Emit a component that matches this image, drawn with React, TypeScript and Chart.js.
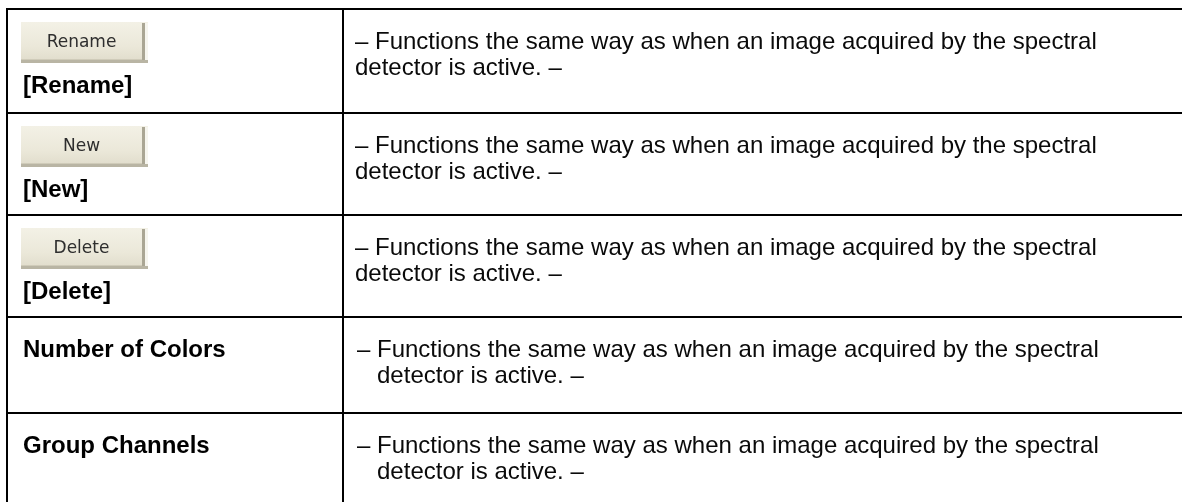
import { useEffect, useRef } from "react";
import { Chart, registerables } from "chart.js";

Chart.register(...registerables);

// ---- content (table data) ----
const rowLabels = ["[Rename]", "[New]", "[Delete]", "Number of Colors", "Group Channels"];
const buttonLabels = ["Rename", "New", "Delete", "", ""];
const descFirstLines = [
  "– Functions the same way as when an image acquired by the spectral",
  "– Functions the same way as when an image acquired by the spectral",
  "– Functions the same way as when an image acquired by the spectral",
  "– Functions the same way as when an image acquired by the spectral",
  "– Functions the same way as when an image acquired by the spectral",
];
const descSecondLines = [
  "detector is active. –",
  "detector is active. –",
  "detector is active. –",
  "detector is active. –",
  "detector is active. –",
];
const hangingIndent = [false, false, false, true, true];

// ---- layout (in page pixels, mapped through the chart's linear scales) ----
const W = 1182;
const H = 502;
const TABLE_LEFT = 7;
const COL_DIVIDER = 343;
const TABLE_TOP = 9;
const ROW_HEIGHTS = [104, 102, 102, 96, 110];

function drawButton(ctx: CanvasRenderingContext2D, x: number, y: number, w: number, h: number, label: string) {
  ctx.save();
  const g = ctx.createLinearGradient(0, y, 0, y + h);
  g.addColorStop(0, "#f3f1e6");
  g.addColorStop(0.6, "#ebe8d9");
  g.addColorStop(1, "#dfdbca");
  ctx.fillStyle = g;
  ctx.fillRect(x, y, w, h);
  // bottom shadow
  ctx.fillStyle = "#b9b5a4";
  ctx.fillRect(x, y + h - 3, w, 3);
  ctx.fillStyle = "#cfcbb9";
  ctx.fillRect(x, y + h - 4, w, 1);
  // right separator bar
  ctx.fillStyle = "#aaa694";
  ctx.fillRect(x + w - 6, y + 1, 3, h - 4);
  ctx.fillStyle = "#f6f5ee";
  ctx.fillRect(x + w - 3, y + 1, 3, h - 4);
  // label
  ctx.filter = "blur(0.4px)";
  ctx.fillStyle = "#2e2e2e";
  ctx.font = '17px "DejaVu Sans"';
  ctx.textAlign = "center";
  ctx.textBaseline = "alphabetic";
  ctx.fillText(label, x + (w - 6) / 2, y + 25);
  ctx.restore();
}

const tablePlugin = {
  id: "tablePlugin",
  afterDraw(chart: any) {
    const ctx: CanvasRenderingContext2D = chart.ctx;
    const xs = chart.scales.x;
    const ys = chart.scales.y;
    const px = (v: number) => xs.getPixelForValue(v);
    const py = (v: number) => ys.getPixelForValue(v);

    ctx.save();
    ctx.fillStyle = "#ffffff";
    ctx.fillRect(0, 0, chart.width, chart.height);

    const edges: number[] = [TABLE_TOP];
    ROW_HEIGHTS.forEach((h) => edges.push(edges[edges.length - 1] + h));

    rowLabels.forEach((label, i) => {
      const top = edges[i];
      const hasButton = buttonLabels[i] !== "";
      if (hasButton) {
        drawButton(ctx, px(21), py(top + 13), px(148) - px(21), py(top + 54) - py(top + 13), buttonLabels[i]);
      }
      ctx.fillStyle = "#000000";
      ctx.font = 'bold 24px "Liberation Sans", Arial, sans-serif';
      ctx.textAlign = "left";
      ctx.textBaseline = "alphabetic";
      ctx.fillText(label, px(23), py(top + (hasButton ? 84 : 40)));

      ctx.font = '24px "Liberation Sans", Arial, sans-serif';
      ctx.fillStyle = "#0a0a0a";
      const x1 = hangingIndent[i] ? 357 : 355;
      ctx.fillText(descFirstLines[i], px(x1), py(top + 40));
      const indent = hangingIndent[i] ? ctx.measureText("– ").width : 0;
      ctx.fillText(descSecondLines[i], px(x1) + indent, py(top + 66));
    });

    ctx.strokeStyle = "#000000";
    ctx.lineWidth = 2;
    ctx.beginPath();
    for (let i = 0; i < edges.length - 1; i++) {
      const y = py(edges[i]);
      ctx.moveTo(px(TABLE_LEFT - 1), y);
      ctx.lineTo(px(W), y);
    }
    ctx.moveTo(px(TABLE_LEFT), py(TABLE_TOP));
    ctx.lineTo(px(TABLE_LEFT), py(H));
    ctx.moveTo(px(COL_DIVIDER), py(TABLE_TOP));
    ctx.lineTo(px(COL_DIVIDER), py(H));
    ctx.stroke();
    ctx.restore();
  },
};

export default function App() {
  const ref = useRef<HTMLCanvasElement | null>(null);
  useEffect(() => {
    document.body.style.margin = "0";
    const canvas = ref.current;
    if (!canvas) return;
    const chart = new Chart(canvas, {
      type: "scatter",
      data: { datasets: [{ data: [], pointRadius: 0 }] },
      options: {
        animation: false,
        responsive: false,
        maintainAspectRatio: false,
        devicePixelRatio: 1,
        layout: { padding: 0 },
        events: [],
        plugins: { legend: { display: false }, tooltip: { enabled: false } },
        scales: {
          x: { type: "linear", min: 0, max: W, display: false },
          y: { type: "linear", min: 0, max: H, reverse: true, display: false },
        },
      },
      plugins: [tablePlugin],
    });
    return () => chart.destroy();
  }, []);
  return (
    <div style={{ width: W, height: H, background: "#fff" }}>
      <canvas ref={ref} width={W} height={H} style={{ display: "block" }} />
    </div>
  );
}
